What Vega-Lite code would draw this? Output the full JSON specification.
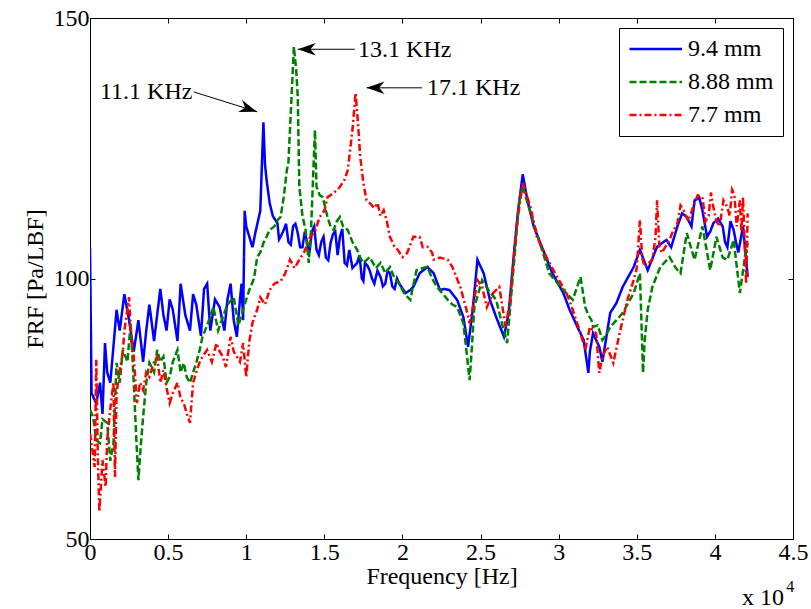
{
  "$schema": "https://vega.github.io/schema/vega-lite/v6.json",
  "width": 703,
  "height": 521,
  "autosize": "none",
  "padding": {"left": 90, "top": 18, "right": 18, "bottom": 70},
  "background": "white",
  "config": {
    "font": "Liberation Serif, serif",
    "view": {"stroke": "black", "strokeWidth": 1},
    "text": {"font": "Liberation Serif, serif"},
    "axis": {
      "labelFont": "Liberation Serif, serif", "labelFontSize": 24, "labelColor": "black",
      "titleFont": "Liberation Serif, serif", "titleFontSize": 24, "titleFontWeight": "normal", "titleColor": "black",
      "domainColor": "black", "tickColor": "black", "grid": false, "labelFlush": false, "labelOverlap": false
    },
    "legend": {"labelFont": "Liberation Serif, serif"}
  },
  "datasets": {
    "frf": [
      {"s":"9.4 mm","f":0,"v":106},{"s":"9.4 mm","f":100,"v":78},{"s":"9.4 mm","f":400,"v":76},{"s":"9.4 mm","f":640,"v":80},{"s":"9.4 mm","f":800,"v":74},{"s":"9.4 mm","f":960,"v":87.6},{"s":"9.4 mm","f":1100,"v":82},{"s":"9.4 mm","f":1300,"v":80},{"s":"9.4 mm","f":1500,"v":86.9},{"s":"9.4 mm","f":1700,"v":94},{"s":"9.4 mm","f":1900,"v":90},{"s":"9.4 mm","f":2200,"v":97},{"s":"9.4 mm","f":2500,"v":92},{"s":"9.4 mm","f":2800,"v":86},{"s":"9.4 mm","f":3100,"v":92},{"s":"9.4 mm","f":3400,"v":84},{"s":"9.4 mm","f":3600,"v":90},{"s":"9.4 mm","f":3800,"v":95},{"s":"9.4 mm","f":4100,"v":88},{"s":"9.4 mm","f":4500,"v":98},{"s":"9.4 mm","f":4700,"v":93},{"s":"9.4 mm","f":4900,"v":90},{"s":"9.4 mm","f":5100,"v":96},{"s":"9.4 mm","f":5300,"v":94},{"s":"9.4 mm","f":5600,"v":88},{"s":"9.4 mm","f":5800,"v":99},{"s":"9.4 mm","f":6100,"v":93},{"s":"9.4 mm","f":6400,"v":90},{"s":"9.4 mm","f":6600,"v":97},{"s":"9.4 mm","f":6800,"v":95},{"s":"9.4 mm","f":7100,"v":89},{"s":"9.4 mm","f":7300,"v":98},{"s":"9.4 mm","f":7500,"v":99},{"s":"9.4 mm","f":7700,"v":90},{"s":"9.4 mm","f":8000,"v":96},{"s":"9.4 mm","f":8300,"v":94.5},{"s":"9.4 mm","f":8600,"v":90},{"s":"9.4 mm","f":8800,"v":96},{"s":"9.4 mm","f":9000,"v":99},{"s":"9.4 mm","f":9200,"v":92},{"s":"9.4 mm","f":9400,"v":88.8},{"s":"9.4 mm","f":9600,"v":96},{"s":"9.4 mm","f":9700,"v":99},{"s":"9.4 mm","f":9800,"v":92},{"s":"9.4 mm","f":9900,"v":113},{"s":"9.4 mm","f":10000,"v":110},{"s":"9.4 mm","f":10200,"v":108},{"s":"9.4 mm","f":10400,"v":106},{"s":"9.4 mm","f":10600,"v":109},{"s":"9.4 mm","f":10900,"v":113},{"s":"9.4 mm","f":11100,"v":130},{"s":"9.4 mm","f":11200,"v":122},{"s":"9.4 mm","f":11300,"v":119},{"s":"9.4 mm","f":11500,"v":114.5},{"s":"9.4 mm","f":11700,"v":112},{"s":"9.4 mm","f":12000,"v":110.6},{"s":"9.4 mm","f":12200,"v":108},{"s":"9.4 mm","f":12400,"v":109.3},{"s":"9.4 mm","f":12700,"v":107},{"s":"9.4 mm","f":13000,"v":110},{"s":"9.4 mm","f":13300,"v":108.7},{"s":"9.4 mm","f":13600,"v":106},{"s":"9.4 mm","f":13900,"v":106.8},{"s":"9.4 mm","f":14200,"v":109},{"s":"9.4 mm","f":14500,"v":105.5},{"s":"9.4 mm","f":14800,"v":107},{"s":"9.4 mm","f":15100,"v":104},{"s":"9.4 mm","f":15400,"v":106.8},{"s":"9.4 mm","f":15700,"v":109},{"s":"9.4 mm","f":16000,"v":108},{"s":"9.4 mm","f":16300,"v":103},{"s":"9.4 mm","f":16600,"v":105.5},{"s":"9.4 mm","f":16800,"v":102},{"s":"9.4 mm","f":17100,"v":103},{"s":"9.4 mm","f":17400,"v":100},{"s":"9.4 mm","f":17600,"v":103},{"s":"9.4 mm","f":17900,"v":101.6},{"s":"9.4 mm","f":18200,"v":99},{"s":"9.4 mm","f":18600,"v":100.3},{"s":"9.4 mm","f":18900,"v":99},{"s":"9.4 mm","f":19200,"v":101},{"s":"9.4 mm","f":19500,"v":98},{"s":"9.4 mm","f":19800,"v":99},{"s":"9.4 mm","f":20200,"v":97.2},{"s":"9.4 mm","f":20500,"v":97.8},{"s":"9.4 mm","f":20700,"v":98.4},{"s":"9.4 mm","f":21100,"v":101},{"s":"9.4 mm","f":21600,"v":102.2},{"s":"9.4 mm","f":22000,"v":101},{"s":"9.4 mm","f":22400,"v":97.8},{"s":"9.4 mm","f":22700,"v":98},{"s":"9.4 mm","f":23000,"v":97.8},{"s":"9.4 mm","f":23500,"v":95.9},{"s":"9.4 mm","f":23900,"v":92.6},{"s":"9.4 mm","f":24200,"v":86.9},{"s":"9.4 mm","f":24500,"v":94},{"s":"9.4 mm","f":24800,"v":103.6},{"s":"9.4 mm","f":25200,"v":101},{"s":"9.4 mm","f":25600,"v":95.9},{"s":"9.4 mm","f":26000,"v":92.6},{"s":"9.4 mm","f":26500,"v":88.8},{"s":"9.4 mm","f":26800,"v":93.4},{"s":"9.4 mm","f":27100,"v":103.6},{"s":"9.4 mm","f":27400,"v":113},{"s":"9.4 mm","f":27700,"v":120},{"s":"9.4 mm","f":28000,"v":115},{"s":"9.4 mm","f":28400,"v":110},{"s":"9.4 mm","f":29000,"v":105.5},{"s":"9.4 mm","f":29600,"v":101},{"s":"9.4 mm","f":30300,"v":97.2},{"s":"9.4 mm","f":30700,"v":94},{"s":"9.4 mm","f":31200,"v":90.7},{"s":"9.4 mm","f":31600,"v":88.2},{"s":"9.4 mm","f":31800,"v":84},{"s":"9.4 mm","f":31900,"v":81.9},{"s":"9.4 mm","f":32000,"v":86},{"s":"9.4 mm","f":32200,"v":89.5},{"s":"9.4 mm","f":32600,"v":86.9},{"s":"9.4 mm","f":32800,"v":84},{"s":"9.4 mm","f":33300,"v":93.4},{"s":"9.4 mm","f":33700,"v":95.3},{"s":"9.4 mm","f":34100,"v":98.4},{"s":"9.4 mm","f":34800,"v":102.2},{"s":"9.4 mm","f":35200,"v":105.5},{"s":"9.4 mm","f":35700,"v":101.6},{"s":"9.4 mm","f":36300,"v":106.1},{"s":"9.4 mm","f":36900,"v":107.4},{"s":"9.4 mm","f":37600,"v":110},{"s":"9.4 mm","f":38200,"v":111.8},{"s":"9.4 mm","f":38700,"v":115},{"s":"9.4 mm","f":39200,"v":113.1},{"s":"9.4 mm","f":39500,"v":108},{"s":"9.4 mm","f":39900,"v":110.6},{"s":"9.4 mm","f":40500,"v":110},{"s":"9.4 mm","f":40800,"v":106},{"s":"9.4 mm","f":41200,"v":109.3},{"s":"9.4 mm","f":41500,"v":105},{"s":"9.4 mm","f":41800,"v":110},{"s":"9.4 mm","f":42100,"v":100.3},
      {"s":"9.4 mm","f":12100,"v":107.5},{"s":"9.4 mm","f":12550,"v":110.5},{"s":"9.4 mm","f":12850,"v":106.5},{"s":"9.4 mm","f":13150,"v":110.5},{"s":"9.4 mm","f":13450,"v":106},{"s":"9.4 mm","f":13750,"v":109},{"s":"9.4 mm","f":14050,"v":105},{"s":"9.4 mm","f":14350,"v":110},{"s":"9.4 mm","f":14650,"v":104.5},{"s":"9.4 mm","f":14950,"v":108},{"s":"9.4 mm","f":15250,"v":103.5},{"s":"9.4 mm","f":15550,"v":108.5},{"s":"9.4 mm","f":15850,"v":104.5},{"s":"9.4 mm","f":16150,"v":109.5},{"s":"9.4 mm","f":16450,"v":102.5},{"s":"9.4 mm","f":17250,"v":104.5},{"s":"9.4 mm","f":17500,"v":99.5},{"s":"9.4 mm","f":17750,"v":102.5},{"s":"9.4 mm","f":18050,"v":100},{"s":"9.4 mm","f":18400,"v":101.5},{"s":"9.4 mm","f":18750,"v":98.5},{"s":"9.4 mm","f":19050,"v":101.5},{"s":"9.4 mm","f":19350,"v":98.5},{"s":"9.4 mm","f":19650,"v":100},{"s":"9.4 mm","f":37200,"v":106},{"s":"9.4 mm","f":37900,"v":112.5},{"s":"9.4 mm","f":38500,"v":110},{"s":"9.4 mm","f":39000,"v":115.5},{"s":"9.4 mm","f":39700,"v":109},{"s":"9.4 mm","f":40200,"v":111.5},{"s":"9.4 mm","f":40650,"v":107},{"s":"9.4 mm","f":41000,"v":111},{"s":"9.4 mm","f":41350,"v":107},
      {"s":"8.88 mm","f":0,"v":74.8},{"s":"8.88 mm","f":200,"v":73.4},{"s":"8.88 mm","f":400,"v":69},{"s":"8.88 mm","f":640,"v":68.4},{"s":"8.88 mm","f":800,"v":73},{"s":"8.88 mm","f":1100,"v":72.3},{"s":"8.88 mm","f":1300,"v":65},{"s":"8.88 mm","f":1500,"v":68.4},{"s":"8.88 mm","f":1700,"v":83.8},{"s":"8.88 mm","f":1900,"v":80},{"s":"8.88 mm","f":2100,"v":86.3},{"s":"8.88 mm","f":2400,"v":84},{"s":"8.88 mm","f":2600,"v":91.5},{"s":"8.88 mm","f":2800,"v":80},{"s":"8.88 mm","f":2950,"v":70},{"s":"8.88 mm","f":3100,"v":61.3},{"s":"8.88 mm","f":3250,"v":68},{"s":"8.88 mm","f":3400,"v":73.4},{"s":"8.88 mm","f":3600,"v":80},{"s":"8.88 mm","f":3800,"v":83.8},{"s":"8.88 mm","f":4100,"v":82},{"s":"8.88 mm","f":4300,"v":86.3},{"s":"8.88 mm","f":4500,"v":84},{"s":"8.88 mm","f":4700,"v":85},{"s":"8.88 mm","f":4900,"v":80},{"s":"8.88 mm","f":5100,"v":81.1},{"s":"8.88 mm","f":5300,"v":84},{"s":"8.88 mm","f":5600,"v":86.3},{"s":"8.88 mm","f":5800,"v":82},{"s":"8.88 mm","f":6000,"v":83.8},{"s":"8.88 mm","f":6200,"v":81},{"s":"8.88 mm","f":6400,"v":80},{"s":"8.88 mm","f":6600,"v":82},{"s":"8.88 mm","f":6800,"v":83.8},{"s":"8.88 mm","f":7000,"v":86},{"s":"8.88 mm","f":7200,"v":88.8},{"s":"8.88 mm","f":7500,"v":91},{"s":"8.88 mm","f":7900,"v":94.5},{"s":"8.88 mm","f":8200,"v":90},{"s":"8.88 mm","f":8500,"v":92.6},{"s":"8.88 mm","f":8800,"v":95},{"s":"8.88 mm","f":9200,"v":96.4},{"s":"8.88 mm","f":9500,"v":91},{"s":"8.88 mm","f":9800,"v":94},{"s":"8.88 mm","f":10000,"v":96},{"s":"8.88 mm","f":10200,"v":97.8},{"s":"8.88 mm","f":10500,"v":100},{"s":"8.88 mm","f":10700,"v":104.1},{"s":"8.88 mm","f":10900,"v":105},{"s":"8.88 mm","f":11100,"v":106.8},{"s":"8.88 mm","f":11300,"v":108},{"s":"8.88 mm","f":11500,"v":109.3},{"s":"8.88 mm","f":11800,"v":110},{"s":"8.88 mm","f":12000,"v":111.2},{"s":"8.88 mm","f":12200,"v":111.8},{"s":"8.88 mm","f":12400,"v":115.6},{"s":"8.88 mm","f":12600,"v":120.8},{"s":"8.88 mm","f":12700,"v":122.2},{"s":"8.88 mm","f":12800,"v":128.5},{"s":"8.88 mm","f":12950,"v":138},{"s":"8.88 mm","f":13050,"v":144.5},{"s":"8.88 mm","f":13200,"v":140},{"s":"8.88 mm","f":13300,"v":134.8},{"s":"8.88 mm","f":13400,"v":117.6},{"s":"8.88 mm","f":13600,"v":112},{"s":"8.88 mm","f":13800,"v":109.3},{"s":"8.88 mm","f":14000,"v":103},{"s":"8.88 mm","f":14150,"v":109.3},{"s":"8.88 mm","f":14300,"v":121},{"s":"8.88 mm","f":14400,"v":128.5},{"s":"8.88 mm","f":14500,"v":117.6},{"s":"8.88 mm","f":14700,"v":116},{"s":"8.88 mm","f":14900,"v":115.6},{"s":"8.88 mm","f":15200,"v":111.8},{"s":"8.88 mm","f":15400,"v":110},{"s":"8.88 mm","f":15600,"v":109.3},{"s":"8.88 mm","f":15800,"v":111},{"s":"8.88 mm","f":16000,"v":111.8},{"s":"8.88 mm","f":16200,"v":110},{"s":"8.88 mm","f":16500,"v":109.3},{"s":"8.88 mm","f":16800,"v":107},{"s":"8.88 mm","f":17100,"v":105.5},{"s":"8.88 mm","f":17300,"v":104},{"s":"8.88 mm","f":17500,"v":103},{"s":"8.88 mm","f":17900,"v":104.1},{"s":"8.88 mm","f":18300,"v":102},{"s":"8.88 mm","f":18600,"v":103},{"s":"8.88 mm","f":18900,"v":101},{"s":"8.88 mm","f":19200,"v":102.2},{"s":"8.88 mm","f":19500,"v":100},{"s":"8.88 mm","f":19800,"v":99},{"s":"8.88 mm","f":20100,"v":97.2},{"s":"8.88 mm","f":20500,"v":95.9},{"s":"8.88 mm","f":20900,"v":101.6},{"s":"8.88 mm","f":21300,"v":102},{"s":"8.88 mm","f":21600,"v":102.2},{"s":"8.88 mm","f":21900,"v":100},{"s":"8.88 mm","f":22200,"v":98.4},{"s":"8.88 mm","f":22600,"v":97},{"s":"8.88 mm","f":22900,"v":95.9},{"s":"8.88 mm","f":23200,"v":95},{"s":"8.88 mm","f":23500,"v":94.5},{"s":"8.88 mm","f":23900,"v":91.4},{"s":"8.88 mm","f":24100,"v":86},{"s":"8.88 mm","f":24300,"v":80.5},{"s":"8.88 mm","f":24450,"v":87},{"s":"8.88 mm","f":24600,"v":94.5},{"s":"8.88 mm","f":25100,"v":99.7},{"s":"8.88 mm","f":25500,"v":97.8},{"s":"8.88 mm","f":26000,"v":95.9},{"s":"8.88 mm","f":26400,"v":91},{"s":"8.88 mm","f":26700,"v":87.6},{"s":"8.88 mm","f":27100,"v":101.6},{"s":"8.88 mm","f":27500,"v":115.6},{"s":"8.88 mm","f":27700,"v":117.6},{"s":"8.88 mm","f":28200,"v":112.6},{"s":"8.88 mm","f":28800,"v":106.8},{"s":"8.88 mm","f":29400,"v":101},{"s":"8.88 mm","f":30300,"v":97.8},{"s":"8.88 mm","f":30900,"v":95.9},{"s":"8.88 mm","f":31400,"v":100.3},{"s":"8.88 mm","f":31700,"v":94.5},{"s":"8.88 mm","f":31900,"v":93},{"s":"8.88 mm","f":32100,"v":92},{"s":"8.88 mm","f":32200,"v":90.7},{"s":"8.88 mm","f":32500,"v":91},{"s":"8.88 mm","f":32800,"v":88.2},{"s":"8.88 mm","f":33000,"v":89},{"s":"8.88 mm","f":33300,"v":90.7},{"s":"8.88 mm","f":33700,"v":92},{"s":"8.88 mm","f":34100,"v":93.4},{"s":"8.88 mm","f":34800,"v":97.2},{"s":"8.88 mm","f":35200,"v":101},{"s":"8.88 mm","f":35400,"v":81.9},{"s":"8.88 mm","f":35500,"v":88},{"s":"8.88 mm","f":35700,"v":94},{"s":"8.88 mm","f":36000,"v":98.4},{"s":"8.88 mm","f":36500,"v":102.2},{"s":"8.88 mm","f":37100,"v":104.1},{"s":"8.88 mm","f":37500,"v":102},{"s":"8.88 mm","f":37800,"v":101},{"s":"8.88 mm","f":38200,"v":108.7},{"s":"8.88 mm","f":38700,"v":103.6},{"s":"8.88 mm","f":39200,"v":110},{"s":"8.88 mm","f":39700,"v":101.6},{"s":"8.88 mm","f":40100,"v":108},{"s":"8.88 mm","f":40500,"v":104},{"s":"8.88 mm","f":40800,"v":103.6},{"s":"8.88 mm","f":41200,"v":107.4},{"s":"8.88 mm","f":41600,"v":97.2},{"s":"8.88 mm","f":41900,"v":103.6},{"s":"8.88 mm","f":42100,"v":106.8},
      {"s":"7.7 mm","f":0,"v":70.3},{"s":"7.7 mm","f":200,"v":66},{"s":"7.7 mm","f":300,"v":63.8},{"s":"7.7 mm","f":400,"v":84.4},{"s":"7.7 mm","f":500,"v":66},{"s":"7.7 mm","f":600,"v":55.2},{"s":"7.7 mm","f":800,"v":65.2},{"s":"7.7 mm","f":1000,"v":60},{"s":"7.7 mm","f":1100,"v":69},{"s":"7.7 mm","f":1300,"v":75},{"s":"7.7 mm","f":1500,"v":80},{"s":"7.7 mm","f":1600,"v":61.9},{"s":"7.7 mm","f":1700,"v":78},{"s":"7.7 mm","f":1900,"v":82.4},{"s":"7.7 mm","f":2100,"v":85.7},{"s":"7.7 mm","f":2200,"v":90},{"s":"7.7 mm","f":2500,"v":96.4},{"s":"7.7 mm","f":2650,"v":88},{"s":"7.7 mm","f":2800,"v":85},{"s":"7.7 mm","f":3000,"v":76.1},{"s":"7.7 mm","f":3200,"v":80},{"s":"7.7 mm","f":3400,"v":78.6},{"s":"7.7 mm","f":3600,"v":82},{"s":"7.7 mm","f":3800,"v":81.1},{"s":"7.7 mm","f":4100,"v":84},{"s":"7.7 mm","f":4300,"v":85},{"s":"7.7 mm","f":4500,"v":80},{"s":"7.7 mm","f":4700,"v":82.4},{"s":"7.7 mm","f":4900,"v":79},{"s":"7.7 mm","f":5100,"v":76.1},{"s":"7.7 mm","f":5300,"v":78},{"s":"7.7 mm","f":5600,"v":80},{"s":"7.7 mm","f":5800,"v":77},{"s":"7.7 mm","f":6000,"v":76.1},{"s":"7.7 mm","f":6200,"v":74},{"s":"7.7 mm","f":6400,"v":72.3},{"s":"7.7 mm","f":6600,"v":80},{"s":"7.7 mm","f":6800,"v":82},{"s":"7.7 mm","f":7000,"v":83.8},{"s":"7.7 mm","f":7200,"v":85},{"s":"7.7 mm","f":7500,"v":86.3},{"s":"7.7 mm","f":7800,"v":84},{"s":"7.7 mm","f":8100,"v":87.6},{"s":"7.7 mm","f":8300,"v":86},{"s":"7.7 mm","f":8500,"v":85},{"s":"7.7 mm","f":8700,"v":83},{"s":"7.7 mm","f":9000,"v":88.8},{"s":"7.7 mm","f":9200,"v":86},{"s":"7.7 mm","f":9400,"v":85},{"s":"7.7 mm","f":9600,"v":84},{"s":"7.7 mm","f":9800,"v":87.6},{"s":"7.7 mm","f":10000,"v":81.1},{"s":"7.7 mm","f":10200,"v":88},{"s":"7.7 mm","f":10400,"v":91.5},{"s":"7.7 mm","f":10700,"v":94},{"s":"7.7 mm","f":10900,"v":96.4},{"s":"7.7 mm","f":11200,"v":95},{"s":"7.7 mm","f":11500,"v":97.8},{"s":"7.7 mm","f":11800,"v":99},{"s":"7.7 mm","f":12200,"v":99.5},{"s":"7.7 mm","f":12500,"v":101},{"s":"7.7 mm","f":12800,"v":103.6},{"s":"7.7 mm","f":13100,"v":102},{"s":"7.7 mm","f":13400,"v":103.6},{"s":"7.7 mm","f":13700,"v":105},{"s":"7.7 mm","f":14100,"v":108},{"s":"7.7 mm","f":14400,"v":109},{"s":"7.7 mm","f":14700,"v":111.8},{"s":"7.7 mm","f":15000,"v":113},{"s":"7.7 mm","f":15200,"v":115.6},{"s":"7.7 mm","f":15600,"v":116.4},{"s":"7.7 mm","f":16000,"v":117.6},{"s":"7.7 mm","f":16300,"v":119},{"s":"7.7 mm","f":16500,"v":120.8},{"s":"7.7 mm","f":16800,"v":128.5},{"s":"7.7 mm","f":17000,"v":135.6},{"s":"7.7 mm","f":17150,"v":130},{"s":"7.7 mm","f":17300,"v":123.3},{"s":"7.7 mm","f":17500,"v":118.3},{"s":"7.7 mm","f":17700,"v":115},{"s":"7.7 mm","f":17900,"v":114.5},{"s":"7.7 mm","f":18200,"v":113.5},{"s":"7.7 mm","f":18400,"v":114.5},{"s":"7.7 mm","f":18600,"v":112},{"s":"7.7 mm","f":18800,"v":113.1},{"s":"7.7 mm","f":19000,"v":111},{"s":"7.7 mm","f":19200,"v":108},{"s":"7.7 mm","f":19500,"v":106},{"s":"7.7 mm","f":19700,"v":105.5},{"s":"7.7 mm","f":20000,"v":104.1},{"s":"7.7 mm","f":20300,"v":104.9},{"s":"7.7 mm","f":20700,"v":108},{"s":"7.7 mm","f":21100,"v":108},{"s":"7.7 mm","f":21300,"v":106},{"s":"7.7 mm","f":21600,"v":106.1},{"s":"7.7 mm","f":21900,"v":105},{"s":"7.7 mm","f":22000,"v":103.6},{"s":"7.7 mm","f":22400,"v":104},{"s":"7.7 mm","f":22900,"v":103.6},{"s":"7.7 mm","f":23200,"v":102.2},{"s":"7.7 mm","f":23700,"v":98.4},{"s":"7.7 mm","f":24100,"v":94},{"s":"7.7 mm","f":24300,"v":91.4},{"s":"7.7 mm","f":24600,"v":96},{"s":"7.7 mm","f":24800,"v":99.7},{"s":"7.7 mm","f":25100,"v":98.4},{"s":"7.7 mm","f":25400,"v":94.5},{"s":"7.7 mm","f":25800,"v":97.2},{"s":"7.7 mm","f":26200,"v":98.4},{"s":"7.7 mm","f":26600,"v":90.7},{"s":"7.7 mm","f":26900,"v":95.9},{"s":"7.7 mm","f":27300,"v":110},{"s":"7.7 mm","f":27700,"v":118.3},{"s":"7.7 mm","f":28200,"v":113.7},{"s":"7.7 mm","f":28600,"v":108},{"s":"7.7 mm","f":29300,"v":103.6},{"s":"7.7 mm","f":29900,"v":100.3},{"s":"7.7 mm","f":30500,"v":97.2},{"s":"7.7 mm","f":30900,"v":94},{"s":"7.7 mm","f":31400,"v":89.5},{"s":"7.7 mm","f":31700,"v":86.3},{"s":"7.7 mm","f":32000,"v":90.7},{"s":"7.7 mm","f":32400,"v":89.5},{"s":"7.7 mm","f":32600,"v":81.9},{"s":"7.7 mm","f":32800,"v":85},{"s":"7.7 mm","f":33100,"v":86.9},{"s":"7.7 mm","f":33500,"v":83.8},{"s":"7.7 mm","f":33900,"v":89.5},{"s":"7.7 mm","f":34400,"v":95.9},{"s":"7.7 mm","f":34800,"v":99.7},{"s":"7.7 mm","f":35000,"v":102},{"s":"7.7 mm","f":35200,"v":111.2},{"s":"7.7 mm","f":35350,"v":104},{"s":"7.7 mm","f":35500,"v":102.2},{"s":"7.7 mm","f":36000,"v":103.6},{"s":"7.7 mm","f":36200,"v":108},{"s":"7.7 mm","f":36300,"v":115},{"s":"7.7 mm","f":36450,"v":106},{"s":"7.7 mm","f":36600,"v":104.9},{"s":"7.7 mm","f":37100,"v":107.4},{"s":"7.7 mm","f":37600,"v":110.6},{"s":"7.7 mm","f":38000,"v":113.1},{"s":"7.7 mm","f":38600,"v":113.7},{"s":"7.7 mm","f":39200,"v":115.6},{"s":"7.7 mm","f":39600,"v":112},{"s":"7.7 mm","f":39900,"v":113.7},{"s":"7.7 mm","f":40300,"v":110},{"s":"7.7 mm","f":40800,"v":113.7},{"s":"7.7 mm","f":41100,"v":117},{"s":"7.7 mm","f":41400,"v":110},{"s":"7.7 mm","f":41600,"v":115},{"s":"7.7 mm","f":41800,"v":115.6},{"s":"7.7 mm","f":42000,"v":99},{"s":"7.7 mm","f":42100,"v":112.5},
      {"s":"7.7 mm","f":37300,"v":109},{"s":"7.7 mm","f":37800,"v":114},{"s":"7.7 mm","f":38300,"v":111},{"s":"7.7 mm","f":38900,"v":116},{"s":"7.7 mm","f":39400,"v":111},{"s":"7.7 mm","f":39750,"v":116.5},{"s":"7.7 mm","f":40100,"v":111},{"s":"7.7 mm","f":40550,"v":115},{"s":"7.7 mm","f":40950,"v":112},{"s":"7.7 mm","f":41250,"v":116},{"s":"7.7 mm","f":41700,"v":109}
    ],
    "labels": [
      {"label":"11.1 KHz","f":640,"v":135.8,"size":24},
      {"label":"13.1 KHz","f":17160,"v":143.9,"size":24},
      {"label":"17.1 KHz","f":21570,"v":136.6,"size":24},
      {"label":"x 10","f":41740,"v":38.7,"size":24},
      {"label":"4","f":44560,"v":40.8,"size":16}
    ],
    "arrows": [
      {"f":6650,"v":135.8,"f2":10700,"v2":132.0,"ang":18.4},
      {"f":16950,"v":144.0,"f2":13300,"v2":144.0,"ang":180},
      {"f":21250,"v":136.6,"f2":17700,"v2":136.6,"ang":180}
    ]
  },
  "layer": [
    {
      "data": {"name": "frf"},
      "mark": {"type": "line", "strokeWidth": 2.5, "clip": true},
      "encoding": {
        "x": {"field": "f", "type": "quantitative",
              "scale": {"domain": [0, 45000], "nice": false, "zero": false},
              "axis": {"orient": "bottom", "values": [0,5000,10000,15000,20000,25000,30000,35000,40000,45000],
                       "labelExpr": "datum.value/10000", "tickSize": -5, "labelPadding": 6,
                       "title": "Frequency [Hz]", "titlePadding": 0}},
        "y": {"field": "v", "type": "quantitative",
              "scale": {"domain": [50, 150], "nice": false, "zero": false},
              "axis": {"orient": "left", "values": [50,100,150], "tickSize": -5, "labelPadding": 6,
                       "title": "FRF [Pa/LBF]", "titlePadding": 6}},
        "color": {"field": "s", "type": "nominal",
                  "scale": {"domain": ["9.4 mm","8.88 mm","7.7 mm"], "range": ["#0000ff","#008000","#ff0000"]},
                  "legend": {"orient": "none", "legendX": 529, "legendY": 10, "title": null,
                             "strokeColor": "black", "fillColor": "white", "padding": 9,
                             "symbolType": "M-1,0H4", "symbolSize": 441, "symbolStrokeWidth": 2.5,
                             "labelFontSize": 24, "labelColor": "black",
                             "labelOffset": 36, "rowPadding": 9}},
        "strokeDash": {"field": "s", "type": "nominal",
                       "scale": {"domain": ["9.4 mm","8.88 mm","7.7 mm"], "range": [[1,0],[7,3],[7,3,2,3]]}},
        "order": {"field": "f", "type": "quantitative"}
      }
    },
    {
      "data": {"name": "arrows"},
      "mark": {"type": "rule", "color": "black", "strokeWidth": 1},
      "encoding": {
        "x": {"field": "f", "type": "quantitative", "axis": null},
        "y": {"field": "v", "type": "quantitative", "axis": null},
        "x2": {"field": "f2"},
        "y2": {"field": "v2"}
      }
    },
    {
      "data": {"name": "arrows"},
      "mark": {"type": "point", "shape": "M0,0L-2,-0.7L-1.4,0L-2,0.7Z", "filled": true, "color": "black", "size": 324, "opacity": 1},
      "encoding": {
        "x": {"field": "f2", "type": "quantitative", "axis": null},
        "y": {"field": "v2", "type": "quantitative", "axis": null},
        "angle": {"field": "ang", "type": "quantitative", "scale": null}
      }
    },
    {
      "data": {"name": "labels"},
      "mark": {"type": "text", "align": "left", "baseline": "middle", "color": "black"},
      "encoding": {
        "x": {"field": "f", "type": "quantitative", "axis": null},
        "y": {"field": "v", "type": "quantitative", "axis": null},
        "text": {"field": "label"},
        "size": {"field": "size", "type": "quantitative", "scale": null}
      }
    },
    {
      "data": {"name": "labels"},
      "mark": {"type": "point", "opacity": 0},
      "encoding": {
        "x": {"field": "f", "type": "quantitative",
              "axis": {"orient": "top", "values": [0,5000,10000,15000,20000,25000,30000,35000,40000,45000],
                       "labels": false, "tickSize": -5, "title": null}},
        "y": {"field": "v", "type": "quantitative",
              "axis": {"orient": "right", "values": [50,100,150], "labels": false, "tickSize": -5, "title": null}}
      }
    }
  ],
  "resolve": {"axis": {"x": "independent", "y": "independent"}}
}
